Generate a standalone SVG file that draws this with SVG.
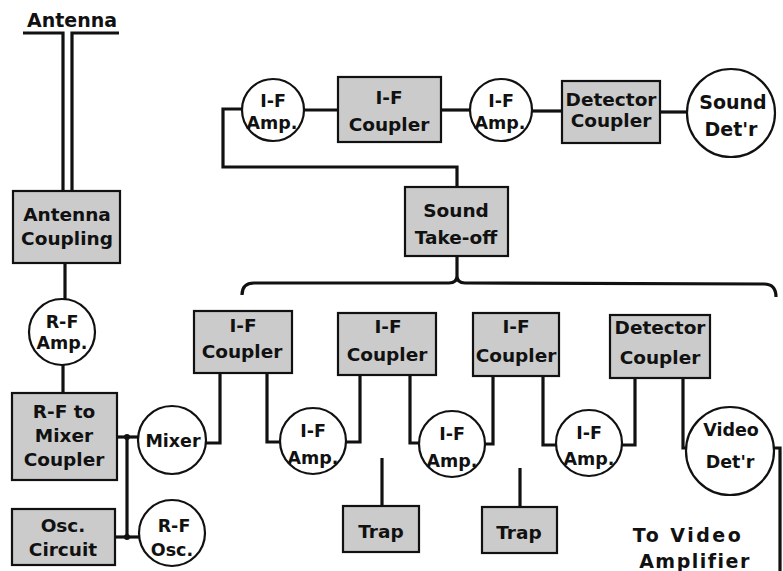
<svg xmlns="http://www.w3.org/2000/svg" width="783" height="571" viewBox="0 0 783 571">
<style>
.box{fill:#cbcbcb;stroke:#111;stroke-width:2.2}
.cir{fill:#fff;stroke:#111;stroke-width:2.2}
.ln{fill:none;stroke:#111;stroke-width:3.2;stroke-linejoin:miter}
text{font-family:"DejaVu Sans","Liberation Sans",sans-serif;font-weight:bold;font-size:18.5px;fill:#111;text-anchor:middle}
.c text{font-size:17.5px}
</style>
<rect width="783" height="571" fill="#fff"/>
<g id="connectors" class="ln">
<path d="M23,33 L63,33 L63,190"/>
<path d="M119,33 L72,33 L72,190"/>
<path d="M65,263 L65,300"/>
<path d="M63,365 L63,393"/>
<path d="M117,437 L139,437"/>
<path d="M115,537 L140,537"/>
<path d="M127,437 L127,537"/>
<path d="M206,443 L220,443 L220,373"/>
<path d="M267,373 L267,442 L281,442"/>
<path d="M345,442 L360,442 L360,375"/>
<path d="M410,375 L410,443 L420,443"/>
<path d="M484,444 L493,444 L493,376"/>
<path d="M543,376 L543,445 L557,445"/>
<path d="M621,445 L635,445 L635,378"/>
<path d="M683,378 L683,448 L688,448"/>
<path d="M773,448 L780,448 L780,571"/>
<path d="M382,458 L382,506"/>
<path d="M520,468 L520,507"/>
<path d="M242,109 L223,109 L223,167 L457,167 L457,187"/>
<path d="M303,110 L338,110"/>
<path d="M441,110 L470,110"/>
<path d="M532,111 L562,111"/>
<path d="M660,112 L687,112"/>
<path d="M457,256 L457,276"/>
<path d="M242,295 Q242,283 254,283 L449,283 Q457,283 457,276 Q457,283 465,283 L764,284 Q776,284 776,297"/>
</g>
<circle cx="127" cy="437" r="3" fill="#111"/>
<circle cx="127" cy="537" r="3" fill="#111"/>
<g id="antenna-label"><text x="72" y="27" style="font-size:19px">Antenna</text></g>
<g id="antenna-coupling"><rect class="box" x="13" y="191" width="107" height="72"/><text x="67" y="221">Antenna</text><text x="67" y="245">Coupling</text></g>
<g id="rf-amp" class="c"><circle class="cir" cx="62" cy="332" r="33"/><text x="62" y="328">R-F</text><text x="62" y="349">Amp.</text></g>
<g id="rf-mixer-coupler"><rect class="box" x="12" y="393" width="105" height="87"/><text x="64" y="418">R-F to</text><text x="64" y="442">Mixer</text><text x="64" y="466">Coupler</text></g>
<g id="osc-circuit"><rect class="box" x="12" y="509" width="103" height="56"/><text x="63" y="532">Osc.</text><text x="63" y="556">Circuit</text></g>
<g id="mixer" class="c"><circle class="cir" cx="172" cy="440" r="34"/><text x="173" y="447">Mixer</text></g>
<g id="rf-osc" class="c"><circle class="cir" cx="172" cy="533" r="33"/><text x="174" y="532">R-F</text><text x="172" y="556">Osc.</text></g>
<g id="if-coupler-1"><rect class="box" x="194" y="311" width="98" height="62"/><text x="243" y="332">I-F</text><text x="242" y="358">Coupler</text></g>
<g id="if-amp-1" class="c"><circle class="cir" cx="313" cy="441" r="33"/><text x="313" y="437">I-F</text><text x="313" y="464">Amp.</text></g>
<g id="if-coupler-2"><rect class="box" x="338" y="313" width="98" height="62"/><text x="388" y="333">I-F</text><text x="387" y="361">Coupler</text></g>
<g id="if-amp-2" class="c"><circle class="cir" cx="452" cy="444" r="33"/><text x="452" y="440">I-F</text><text x="452" y="467">Amp.</text></g>
<g id="if-coupler-3"><rect class="box" x="473" y="313" width="86" height="63"/><text x="516" y="333">I-F</text><text x="516" y="362">Coupler</text></g>
<g id="if-amp-3" class="c"><circle class="cir" cx="589" cy="443" r="33"/><text x="589" y="439">I-F</text><text x="589" y="465">Amp.</text></g>
<g id="detector-coupler"><rect class="box" x="610" y="315" width="100" height="63"/><text x="660" y="334">Detector</text><text x="660" y="364">Coupler</text></g>
<g id="video-detr" class="c"><circle class="cir" cx="730" cy="451" r="44"/><text x="731" y="436">Video</text><text x="730" y="468">Det'r</text></g>
<g id="trap-1"><rect class="box" x="343" y="506" width="76" height="46"/><text x="381" y="538">Trap</text></g>
<g id="trap-2"><rect class="box" x="482" y="507" width="75" height="46"/><text x="519" y="539">Trap</text></g>
<g id="to-video-label"><text x="688" y="542" style="font-size:19px;letter-spacing:2.5px">To Video</text><text x="695" y="568" style="font-size:19px;letter-spacing:1.5px">Amplifier</text></g>
<g id="sound-takeoff"><rect class="box" x="405" y="187" width="103" height="69"/><text x="456" y="217">Sound</text><text x="456" y="244">Take-off</text></g>
<g id="if-amp-top-1" class="c"><circle class="cir" cx="273" cy="110" r="31"/><text x="273" y="107">I-F</text><text x="272" y="129">Amp.</text></g>
<g id="if-coupler-top"><rect class="box" x="338" y="77" width="103" height="65"/><text x="389" y="104">I-F</text><text x="389" y="131">Coupler</text></g>
<g id="if-amp-top-2" class="c"><circle class="cir" cx="501" cy="110" r="31"/><text x="501" y="107">I-F</text><text x="500" y="129">Amp.</text></g>
<g id="detector-coupler-top"><rect class="box" x="562" y="81" width="98" height="62"/><text x="611" y="106">Detector</text><text x="611" y="127">Coupler</text></g>
<g id="sound-detr"><circle class="cir" cx="731" cy="113" r="44"/><text x="733" y="109" style="font-size:19px">Sound</text><text x="731" y="136" style="font-size:19px">Det'r</text></g>
</svg>
